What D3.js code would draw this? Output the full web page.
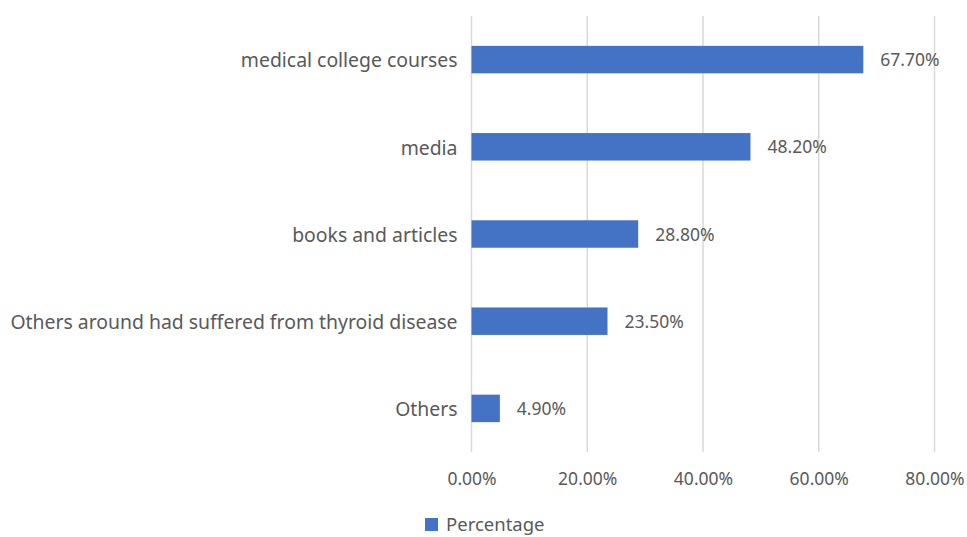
<!DOCTYPE html>
<html><head><meta charset="utf-8">
<script src="https://cdn.jsdelivr.net/npm/d3@7"></script>
<style>body{margin:0;background:#fff;} text{font-family:"Noto Sans",sans-serif;}</style>
</head><body>
<svg id="c" width="967" height="537"></svg>
<script>
const categories = ["medical college courses","media","books and articles","Others around had suffered from thyroid disease","Others"];
const values = [67.7, 48.2, 28.8, 23.5, 4.9];
const ticks = [0, 20, 40, 60, 80];
const seriesName = "Percentage";

const svg = d3.select("#c");
const x = d3.scaleLinear().domain([0, 80]).range([471.5, 934.5]);
const y = d3.scaleBand().domain(categories).range([16, 452]).paddingInner(0.685).paddingOuter(0.3425);
const col = "#4472c4", txt = "#595959";

svg.append("g").selectAll("line").data(ticks).join("line")
  .attr("x1", d => x(d)).attr("x2", d => x(d)).attr("y1", 16).attr("y2", 452)
  .attr("stroke", "#d9d9d9").attr("stroke-width", 1.5);

const xAxis = d3.axisBottom(x).tickValues(ticks).tickSize(0).tickFormat(d => d.toFixed(2) + "%");
const gx = svg.append("g").attr("transform", "translate(0,470)").call(xAxis);
gx.select(".domain").remove();
gx.selectAll("text").attr("fill", txt).attr("font-size", 17.5).attr("dy", "0.71em").attr("font-family","Noto Sans");

const yAxis = d3.axisLeft(y).tickSize(0).tickPadding(14);
const gy = svg.append("g").attr("transform", `translate(${x(0)},0)`).call(yAxis);
gy.select(".domain").remove();
gy.selectAll("text").attr("fill", txt).attr("font-size", 19.4).attr("dy", "0.4em").attr("font-family","Noto Sans");

svg.append("g").selectAll("rect").data(values).join("rect")
  .attr("x", x(0)).attr("y", (d, i) => y(categories[i]))
  .attr("width", d => x(d) - x(0)).attr("height", y.bandwidth()).attr("fill", col);

svg.append("g").selectAll("text").data(values).join("text")
  .attr("x", d => x(d) + 17).attr("y", (d, i) => y(categories[i]) + y.bandwidth() / 2)
  .attr("dy", "0.38em").attr("fill", txt).attr("font-size", 17.5)
  .text(d => d.toFixed(2) + "%");

const lg = svg.append("g").attr("transform", "translate(425,518)");
lg.append("rect").attr("width", 13).attr("height", 13).attr("fill", col);
lg.append("text").attr("x", 21).attr("y", 6.5).attr("dy", "0.33em").attr("fill", txt).attr("font-size", 18.5).text(seriesName);
</script>
</body></html>
